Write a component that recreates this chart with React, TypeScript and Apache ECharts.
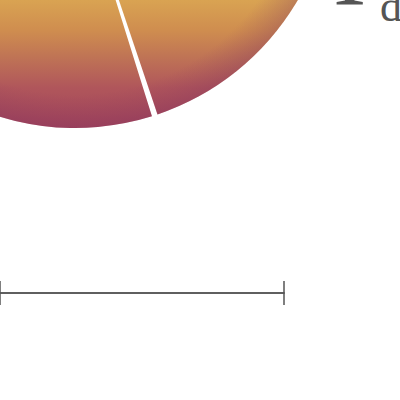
import { useEffect, useRef } from 'react';
import * as echarts from 'echarts';

// two wedges of the (cropped) pie, clockwise from 12 o'clock
const sliceNames = ['Upper', 'Lower'];
const sliceValues = [45, 55];

// value axis underneath, only its right end is visible
const axisMin = 0;
const axisMax = 10;
const axisStep = 10;

const App = () => {
    const chartRef = useRef(null);

    useEffect(() => {
        if (!chartRef.current) return;
        const myChart = echarts.init(chartRef.current, undefined, { renderer: 'svg' });

        const pieData = sliceNames.map((name, i) => ({ name, value: sliceValues[i] }));
        const cx = 75;
        const cy = -130;
        const r = 258;

        const fill = new echarts.graphic.LinearGradient(0, -40, 0, 128, [
            { offset: 0, color: '#e2b25a' },
            { offset: 0.24, color: '#d9a352' },
            { offset: 0.42, color: '#cf8d4f' },
            { offset: 0.6, color: '#bd7056' },
            { offset: 0.76, color: '#b0565b' },
            { offset: 1, color: '#a3465b' }
        ], true);

        const rim = new echarts.graphic.RadialGradient(cx, cy, r, [
            { offset: 0, color: 'rgba(130,45,95,0)' },
            { offset: 0.87, color: 'rgba(130,45,95,0)' },
            { offset: 1, color: 'rgba(125,45,95,0.3)' }
        ], true);

        const pieBase = {
            type: 'pie',
            center: [cx, cy],
            radius: [0, r],
            startAngle: 90,
            padAngle: 1.3,
            label: { show: false },
            labelLine: { show: false },
            emphasis: { disabled: true },
            data: pieData
        };

        const axisCommon = {
            type: 'value',
            min: axisMin,
            max: axisMax,
            interval: axisStep,
            position: 'bottom',
            axisLine: { show: true, lineStyle: { color: '#555', width: 1.5 } },
            axisLabel: { show: false },
            splitLine: { show: false }
        };

        const option = {
            animation: false,
            grid: { left: -20, right: 116, top: 200, bottom: 107, containLabel: false },
            xAxis: [
                { ...axisCommon, axisTick: { show: true, length: 12, lineStyle: { color: '#555', width: 1.5 } } },
                { ...axisCommon, axisTick: { show: true, inside: true, length: 12, lineStyle: { color: '#555', width: 1.5 } } }
            ],
            yAxis: { type: 'value', show: false, min: 0, max: 1 },
            graphic: [
                {
                    type: 'text', x: 333, y: 20,
                    style: { text: 'I', font: '100px "Liberation Serif"', fill: '#555', verticalAlign: 'bottom' }
                },
                {
                    type: 'text', x: 380, y: 28,
                    style: { text: 'd', font: '44px "Liberation Serif"', fill: '#555', verticalAlign: 'bottom' }
                }
            ],
            series: [
                { ...pieBase, name: 'fill', itemStyle: { color: fill } },
                { ...pieBase, name: 'rim', silent: true, itemStyle: { color: rim } },
                { type: 'line', xAxisIndex: 0, data: [], silent: true }
            ]
        };

        myChart.setOption(option);

        return () => {
            myChart.dispose();
        };
    }, []);

    return (
        <div
            ref={chartRef}
            style={{ position: 'fixed', left: 0, top: 0, width: '400px', height: '400px', background: '#fff' }}
        />
    );
};

export default App;
